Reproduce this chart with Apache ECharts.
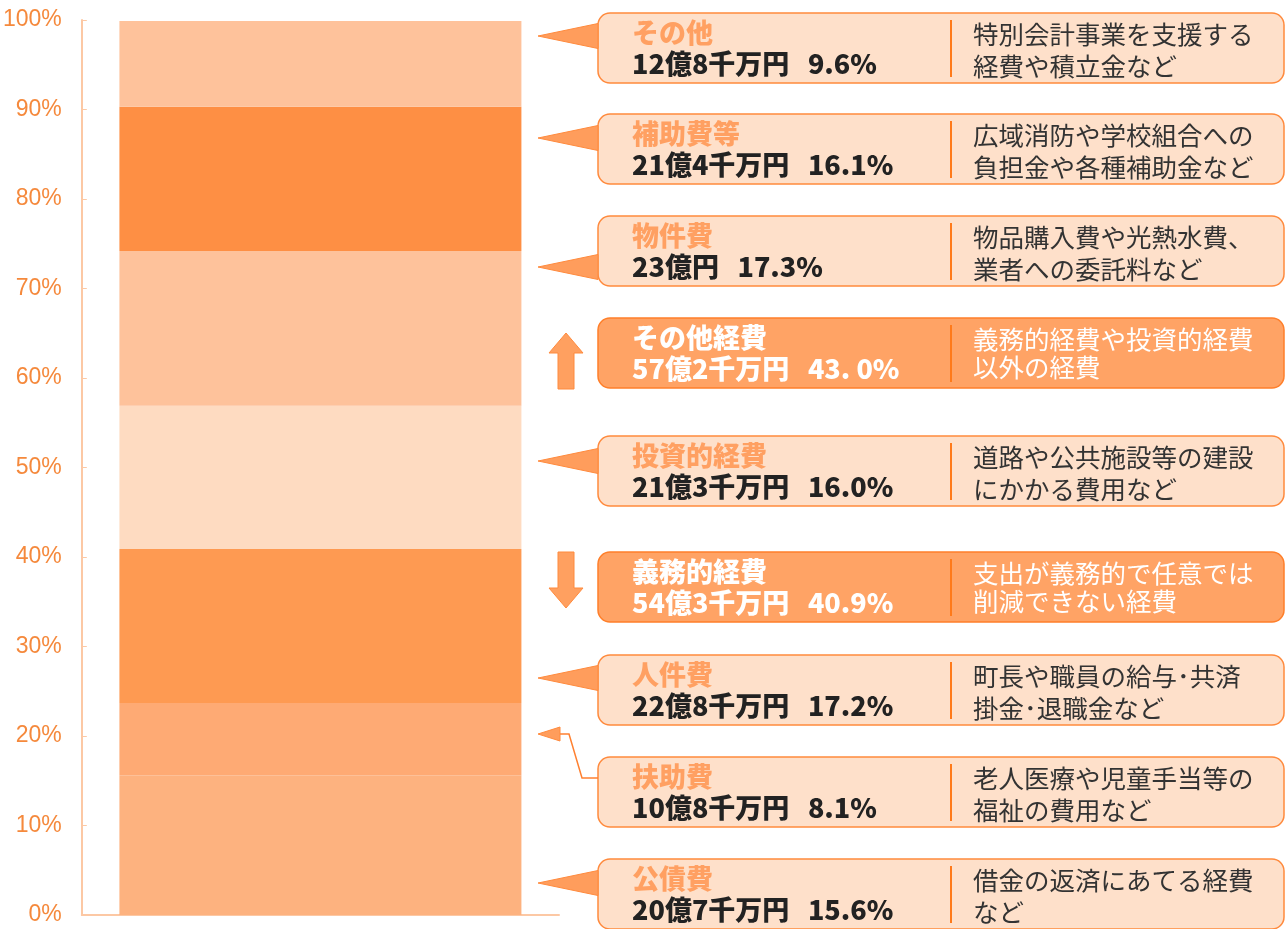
<!DOCTYPE html>
<html lang="ja">
<head>
    <meta charset="UTF-8">
    <title>歳出の内訳</title>
    <script src="https://cdn.jsdelivr.net/npm/echarts@6/dist/echarts.min.js"></script>
    <style type="text/css">
        html, body { margin: 0; height: 100%; background: #fff; }
    </style>
</head>
<body>
<div id="main" style="width: 1286px;height:929px;"></div>
<script>
    // bottom -> top
    const names = ['公債費', '扶助費', '人件費', '投資的経費', '物件費', '補助費等', 'その他'];
    const pct = [15.6, 8.1, 17.2, 16.0, 17.3, 16.1, 9.6];
    const amounts = ['20億7千万円', '10億8千万円', '22億8千万円', '21億3千万円', '23億円', '21億4千万円', '12億8千万円'];
    const pctText = ['15.6%', '8.1%', '17.2%', '16.0%', '17.3%', '16.1%', '9.6%'];
    const descs = [
        '借金の返済にあてる経費\nなど',
        '老人医療や児童手当等の\n福祉の費用など',
        '町長や職員の給与･共済\n掛金･退職金など',
        '道路や公共施設等の建設\nにかかる費用など',
        '物品購入費や光熱水費、\n業者への委託料など',
        '広域消防や学校組合への\n負担金や各種補助金など',
        '特別会計事業を支援する\n経費や積立金など'
    ];
    const barColors = ['#fdb27f', '#feaa74', '#fe9a52', '#fedbc1', '#fec29b', '#fe8f44', '#fec29b'];

    const groupNames = ['義務的経費', 'その他経費'];
    const groupAmounts = ['54億3千万円', '57億2千万円'];
    const groupPctText = ['40.9%', '43. 0%'];
    const groupDescs = ['支出が義務的で任意では\n削減できない経費', '義務的経費や投資的経費\n以外の経費'];
    const yTicks = [0, 10, 20, 30, 40, 50, 60, 70, 80, 90, 100];

    // callout layout (top of box, pointer tip y)
    const boxTop = [859, 757, 655, 436, 216, 114, 13];
    const tipY = [883, 734, 678, 461, 267, 138, 36];
    const groupTop = [552, 318];

    const BX = 598, BW = 686, BH = 70;
    const titleFont = '900 27px "Noto Sans CJK JP"';
    const valueFont = '900 27px "Noto Sans CJK JP"';
    const descFont = '25.5px "Noto Sans CJK JP"';

    function box(top, title, value, desc, dark) {
        const els = [];
        els.push({
            type: 'rect', z: 10,
            shape: {x: BX, y: top, width: BW, height: BH, r: 12},
            style: {fill: dark ? '#ffa365' : '#fee0ca', stroke: dark ? '#ff7f2a' : '#ff8a3d', lineWidth: 1.5}
        });
        els.push({
            type: 'text', z: 11, x: 632, y: top + 20,
            style: {text: title, font: titleFont, fill: dark ? '#fff' : '#ffa062', verticalAlign: 'middle'}
        });
        els.push({
            type: 'text', z: 11, x: 632, y: top + 51,
            style: {text: value, font: valueFont, fill: dark ? '#fff' : '#222', verticalAlign: 'middle'}
        });
        els.push({
            type: 'line', z: 11,
            shape: {x1: 951, y1: top + 7, x2: 951, y2: top + 64},
            style: {stroke: '#ff7a1a', lineWidth: 2}
        });
        els.push({
            type: 'text', z: 11, x: 973, y: dark ? top + 7 : top + 5,
            style: {text: desc, font: descFont, fill: dark ? '#fff' : '#333',
                lineHeight: dark ? 28 : 32, verticalAlign: 'top'}
        });
        return els;
    }

    function tip(y, baseX, half) {
        return {
            type: 'polygon', z: 12,
            shape: {points: [[baseX, y - half], [538, y], [baseX, y + half]]},
            style: {fill: '#ff9d5c', stroke: '#ff8a3d', lineWidth: 1}
        };
    }

    const graphics = [];
    names.forEach(function (n, i) {
        graphics.push.apply(graphics, box(boxTop[i], n, amounts[i] + '   ' + pctText[i], descs[i], false));
        if (n === '扶助費') {
            graphics.push({
                type: 'polyline', z: 12,
                shape: {points: [[BX, boxTop[i] + 21], [582, boxTop[i] + 21], [569, tipY[i]], [560, tipY[i]]]},
                style: {stroke: '#ff8030', lineWidth: 1.5, fill: null}
            });
            graphics.push(tip(tipY[i], 560, 7));
        } else {
            graphics.push(tip(tipY[i], BX, 12.5));
        }
    });
    groupNames.forEach(function (n, i) {
        graphics.push.apply(graphics, box(groupTop[i], n, groupAmounts[i] + '   ' + groupPctText[i], groupDescs[i], true));
    });
    // up / down arrows
    graphics.push({
        type: 'polygon', z: 12,
        shape: {points: [[566, 333], [583, 353], [574, 353], [574, 389], [558, 389], [558, 353], [549, 353]]},
        style: {fill: '#ffa060', stroke: '#ff8a3d', lineWidth: 1}
    });
    graphics.push({
        type: 'polygon', z: 12,
        shape: {points: [[558, 552], [574, 552], [574, 588], [583, 588], [566, 608], [549, 588], [558, 588]]},
        style: {fill: '#ffa060', stroke: '#ff8a3d', lineWidth: 1}
    });

    const myChart = echarts.init(document.getElementById('main'), null, {renderer: 'canvas'});
    const option = {
        animation: false,
        grid: {left: 71, right: 727, top: 20, bottom: 14, containLabel: false},
        xAxis: {
            type: 'category',
            data: ['歳出'],
            axisLine: {show: true, lineStyle: {color: '#fcc8a4', width: 2}},
            axisTick: {show: false},
            axisLabel: {show: false}
        },
        yAxis: {
            type: 'value',
            min: yTicks[0],
            max: yTicks[yTicks.length - 1],
            interval: 10,
            splitLine: {show: false},
            axisLine: {show: true, lineStyle: {color: '#fcc8a4', width: 2}},
            axisTick: {show: true, inside: true, length: 5, lineStyle: {color: '#fcc8a4'}},
            axisLabel: {
                formatter: '{value}%',
                color: '#f5893c',
                fontFamily: '"Liberation Sans Narrow", "Liberation Sans"',
                fontSize: 23,
                margin: 20
            }
        },
        series: names.map(function (n, i) {
            return {
                name: n,
                type: 'bar',
                stack: 'total',
                barWidth: 402,
                itemStyle: {color: barColors[i]},
                data: [pct[i]]
            };
        }),
        graphic: graphics
    };
    myChart.setOption(option);
</script>
</body>
</html>
